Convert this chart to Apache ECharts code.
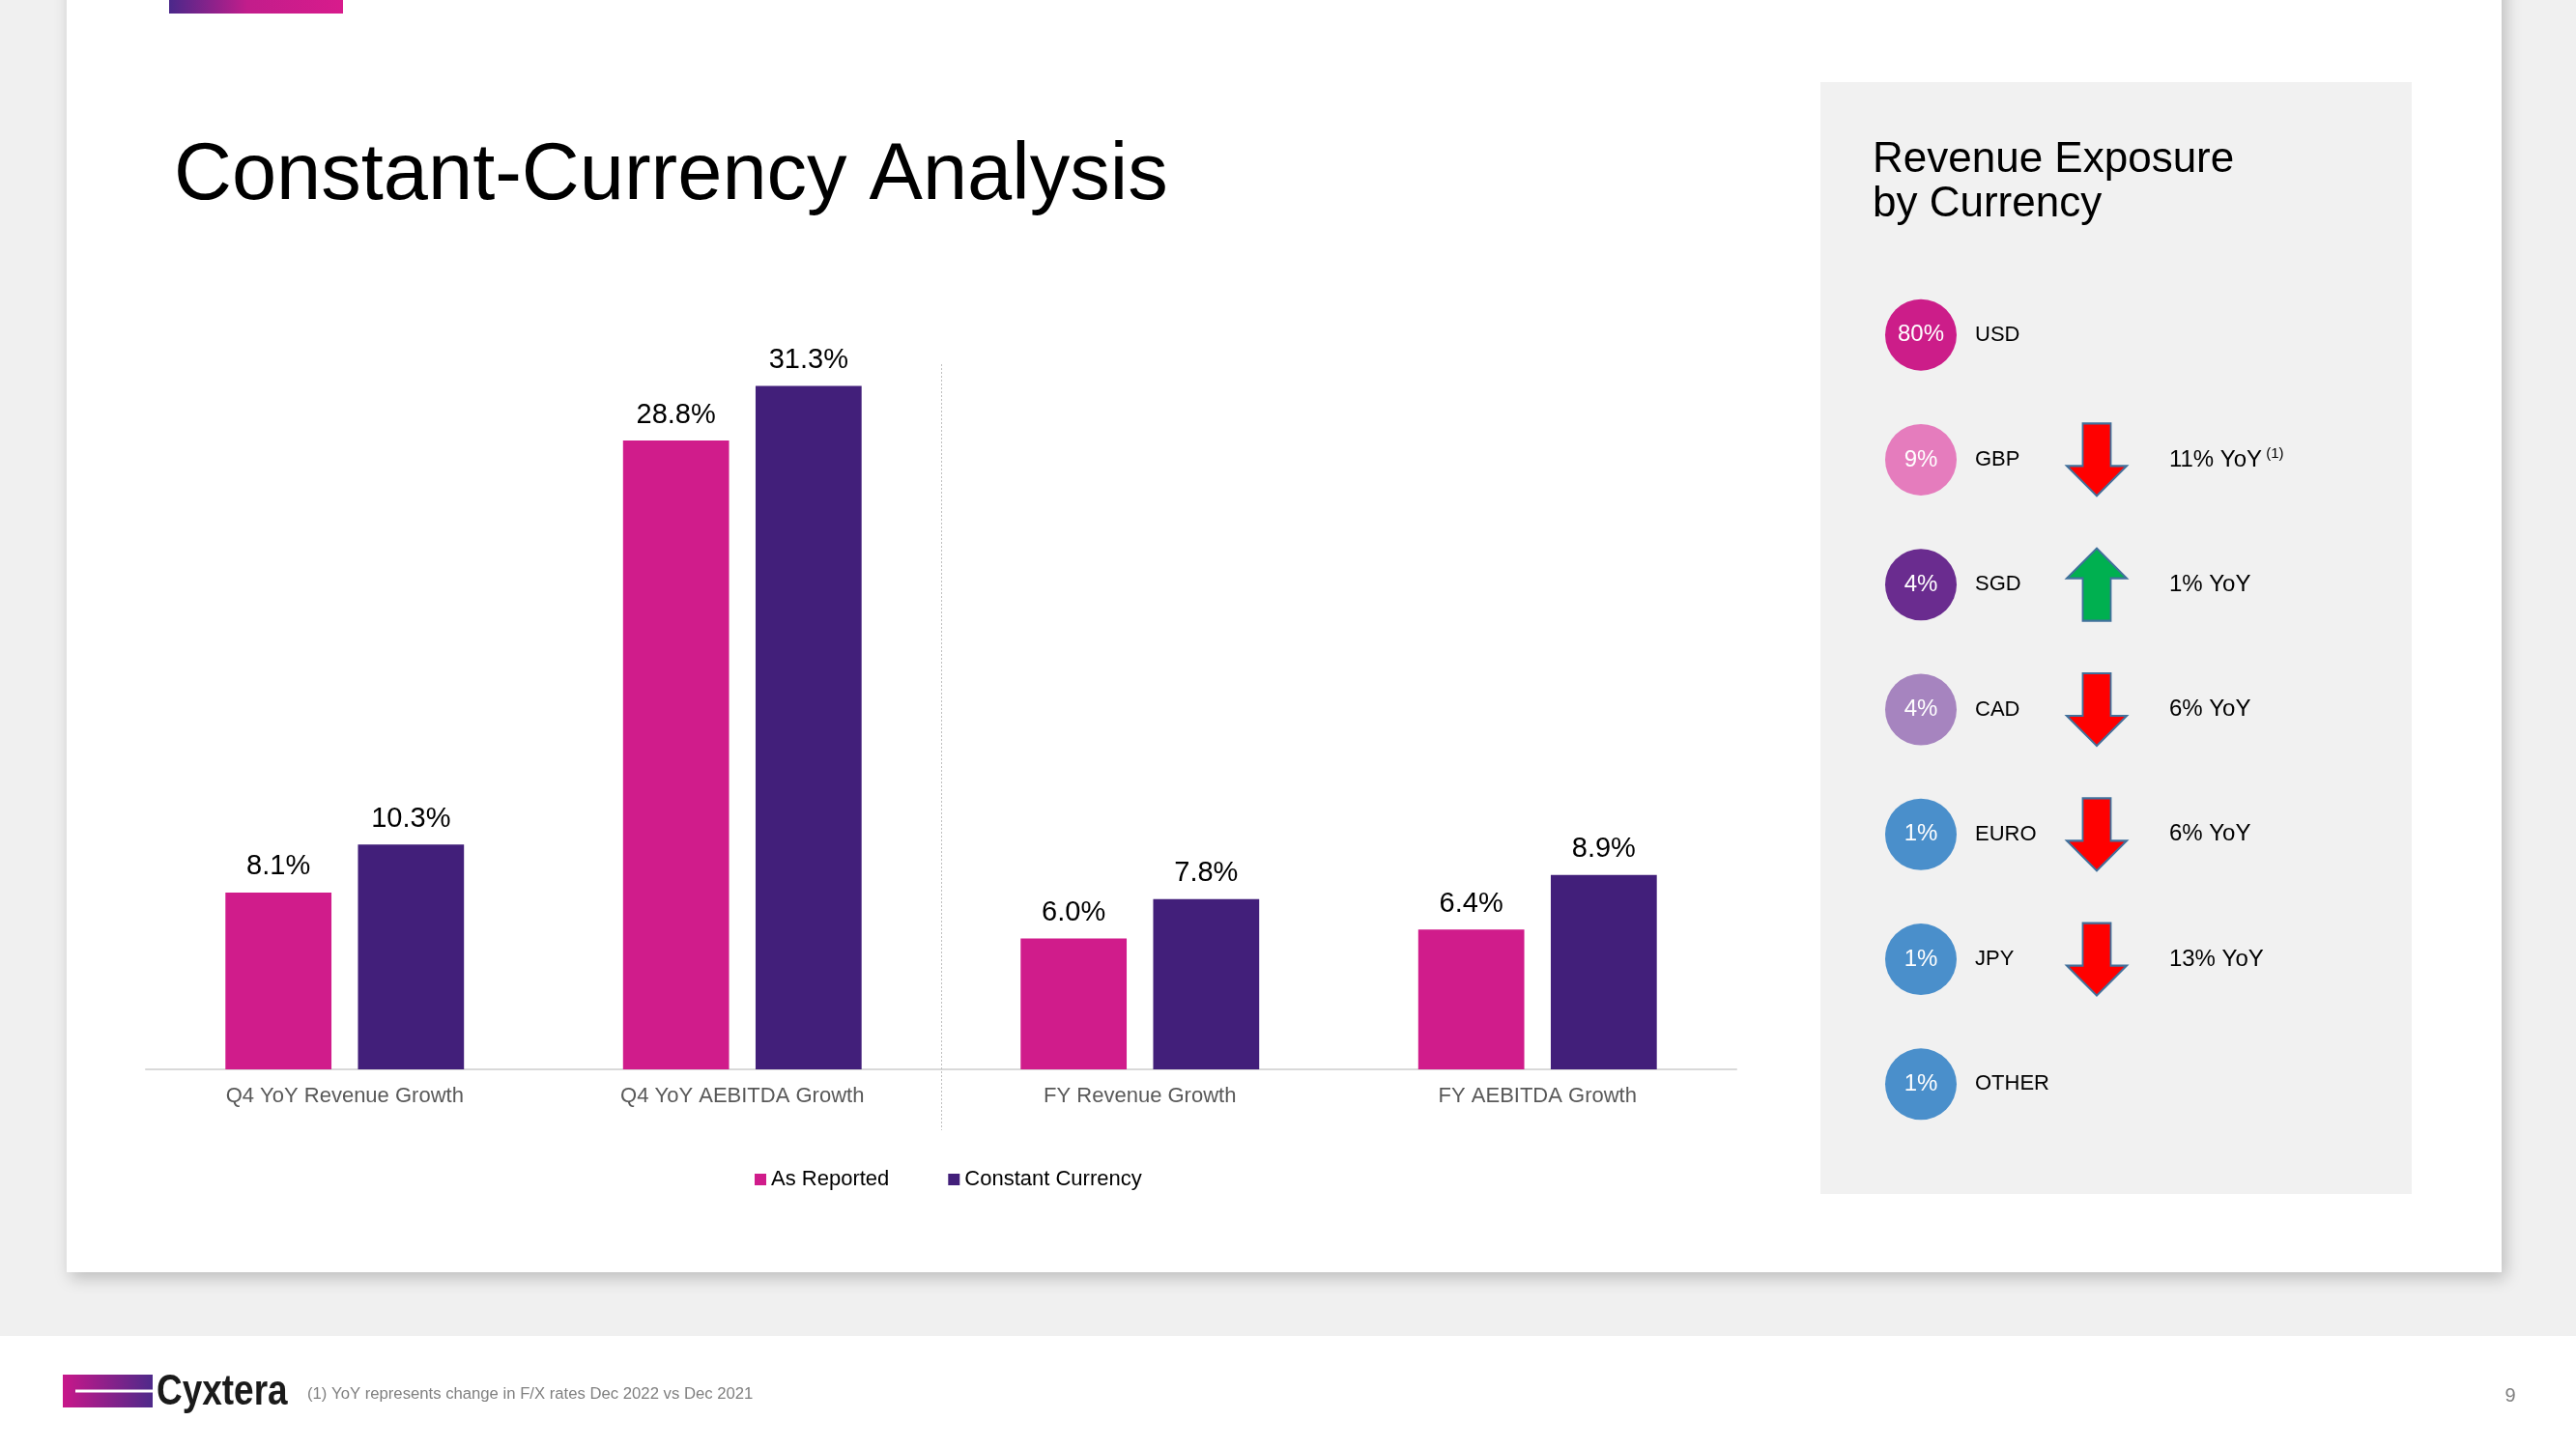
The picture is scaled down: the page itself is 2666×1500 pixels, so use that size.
<!DOCTYPE html>
<html>
<head>
<meta charset="utf-8">
<script src="https://cdn.jsdelivr.net/npm/echarts@6/dist/echarts.min.js"></script>
<style>
  html, body { margin: 0; padding: 0; background: #ffffff; }
  #chart { width: 2666px; height: 1500px; }
</style>
</head>
<body>
<div id="chart"></div>
<script>
// ---- data ----
const categories = ['Q4 YoY Revenue Growth', 'Q4 YoY AEBITDA Growth', 'FY Revenue Growth', 'FY AEBITDA Growth'];
const asReported = [8.1, 28.8, 6.0, 6.4];
const constantCurrency = [10.3, 31.3, 7.8, 8.9];
const seriesNames = ['As Reported', 'Constant Currency'];

const currencies = ['USD', 'GBP', 'SGD', 'CAD', 'EURO', 'JPY', 'OTHER'];
const revenueShare = [80, 9, 4, 4, 1, 1, 1];
const yoyChange = [null, -11, 1, -6, -6, -13, null];
const yoyNote = ['', '(1)', '', '', '', '', ''];
const panelColumns = ['share', 'change'];

// ---- styles ----
const FONT = "'Liberation Sans', Arial, sans-serif";
const barColors = ['#d01c8b', '#421f7a'];
const shareColors = ['#cc1d89', '#e57cbd', '#6a2c8f', '#a684bf', '#4a8fcb', '#4a8fcb', '#4a8fcb'];
const downArrow = 'path://M16.5,0 L45.5,0 L45.5,44 L62,44 L31,75 L0,44 L16.5,44 Z';
const upArrow = 'path://M31,0 L62,31 L45.5,31 L45.5,75 L16.5,75 L16.5,31 L0,31 Z';

const chart = echarts.init(document.getElementById('chart'), null, { renderer: 'canvas' });

const shareData = currencies.map((c, i) => ({
  value: ['share', c, revenueShare[i]],
  itemStyle: { color: shareColors[i], opacity: 1 }
}));
const nameData = currencies.map((c, i) => ({ value: ['share', c, revenueShare[i]], name: c }));
const changeData = [];
currencies.forEach((c, i) => {
  if (yoyChange[i] !== null) changeData.push({ value: ['change', c, yoyChange[i]], note: yoyNote[i] });
});

const barLabel = {
  show: true, position: 'top', distance: 12, fontFamily: FONT, fontSize: 29, color: '#000000',
  formatter: p => p.value.toFixed(1) + '%'
};

const option = {
  animation: false,
  backgroundColor: '#ffffff',
  textStyle: { fontFamily: FONT },
  title: [
    {
      text: 'Constant-Currency Analysis',
      left: 180, top: 141, padding: 0,
      textStyle: { fontFamily: FONT, fontSize: 83, fontWeight: 'normal', color: '#000000', lineHeight: 84 }
    },
    {
      text: 'Revenue Exposure\nby Currency',
      left: 1938, top: 143, padding: 0,
      textStyle: { fontFamily: FONT, fontSize: 44, fontWeight: 'normal', color: '#000000', lineHeight: 46 }
    }
  ],
  legend: {
    data: seriesNames,
    left: 776, top: 1205,
    itemWidth: 12, itemHeight: 12, itemGap: 61,
    icon: 'rect',
    textStyle: { fontFamily: FONT, fontSize: 22, color: '#000000' }
  },
  grid: [
    { left: 151, width: 1646, top: 316, height: 791 },
    { left: 1897, width: 364, top: 282, height: 905 }
  ],
  xAxis: [
    {
      type: 'category', gridIndex: 0, data: categories,
      axisLine: { lineStyle: { color: '#d9d9d9', width: 2 } },
      axisTick: { show: false },
      axisLabel: { fontFamily: FONT, fontSize: 22, color: '#595959', margin: 17 }
    },
    { type: 'category', gridIndex: 1, data: panelColumns, show: false }
  ],
  yAxis: [
    { type: 'value', gridIndex: 0, min: 0, max: 35, show: false, splitLine: { show: false } },
    { type: 'category', gridIndex: 1, data: currencies, inverse: true, show: false }
  ],
  series: [
    {
      name: seriesNames[0], type: 'bar', xAxisIndex: 0, yAxisIndex: 0,
      data: asReported, barGap: '25%', barCategoryGap: '40%',
      itemStyle: { color: barColors[0] },
      label: barLabel
    },
    {
      name: seriesNames[1], type: 'bar', xAxisIndex: 0, yAxisIndex: 0,
      data: constantCurrency, barGap: '25%', barCategoryGap: '40%',
      itemStyle: { color: barColors[1] },
      label: barLabel
    },
    {
      name: 'Revenue Share', type: 'scatter', xAxisIndex: 1, yAxisIndex: 1,
      symbol: 'circle', symbolSize: 74, silent: true,
      itemStyle: { opacity: 1 },
      data: shareData,
      label: { show: true, position: 'inside', fontFamily: FONT, fontSize: 24, color: '#ffffff',
        formatter: p => p.value[2] + '%' }
    },
    {
      name: 'Currency', type: 'scatter', xAxisIndex: 1, yAxisIndex: 1,
      symbol: 'circle', symbolSize: 74, silent: true,
      itemStyle: { color: 'rgba(0,0,0,0)', opacity: 1 },
      data: nameData,
      label: { show: true, position: 'right', distance: 19, fontFamily: FONT, fontSize: 22, color: '#000000',
        formatter: p => p.value[1] }
    },
    {
      name: 'YoY FX Change', type: 'scatter', xAxisIndex: 1, yAxisIndex: 1,
      symbol: (val) => (val[2] < 0 ? downArrow : upArrow),
      symbolSize: [62, 75], silent: true,
      data: changeData,
      itemStyle: {
        color: p => (p.value[2] < 0 ? '#ff0000' : '#00b050'),
        borderColor: '#41719c', borderWidth: 2, opacity: 1
      },
      label: {
        show: true, position: 'right', distance: 43, fontFamily: FONT, fontSize: 24, color: '#000000',
        formatter: p => '{t|' + Math.abs(p.value[2]) + '% YoY}' + (p.data.note ? '{s| ' + p.data.note + '}' : ''),
        rich: {
          t: { fontFamily: FONT, fontSize: 24, color: '#000000' },
          s: { fontFamily: FONT, fontSize: 15, color: '#000000', verticalAlign: 'top', padding: [0, 0, 12, 0] }
        }
      }
    }
  ],
  graphic: [
    { type: 'rect', id: 'pagebg', z: -10, silent: true, shape: { x: 0, y: 0, width: 2666, height: 1383 }, style: { fill: '#f0f0f0' } },
    { type: 'rect', id: 'card', z: -9, silent: true, shape: { x: 69, y: -30, width: 2520, height: 1347 },
      style: { fill: '#ffffff', shadowBlur: 16, shadowOffsetX: 4, shadowOffsetY: 6, shadowColor: 'rgba(0,0,0,0.22)' } },
    { type: 'rect', id: 'topbar', z: -8, silent: true, shape: { x: 175, y: 0, width: 180, height: 14 },
      style: { fill: new echarts.graphic.LinearGradient(0, 0, 1, 0, [
        { offset: 0, color: '#4a288a' }, { offset: 0.45, color: '#c21d8b' }, { offset: 1, color: '#d81b8c' }]) } },
    { type: 'rect', id: 'panel', z: -8, silent: true, shape: { x: 1884, y: 85, width: 612, height: 1151 }, style: { fill: '#f1f1f1' } },
    { type: 'rect', id: 'logoRect', z: 5, silent: true, shape: { x: 65, y: 1423, width: 93, height: 34 },
      style: { fill: new echarts.graphic.LinearGradient(0, 0, 1, 0, [
        { offset: 0, color: '#c8178a' }, { offset: 1, color: '#4e2a8a' }]) } },
    { type: 'line', id: 'logoLine', z: 6, silent: true, shape: { x1: 78, y1: 1440, x2: 158, y2: 1440 }, style: { stroke: '#ffffff', lineWidth: 3 } },
    { type: 'text', id: 'logoText', z: 6, silent: true, x: 162, y: 1442, scaleX: 0.84,
      style: { text: 'Cyxtera', fill: '#1a1a1a', font: "bold 44px 'Liberation Sans', Arial, sans-serif", textVerticalAlign: 'middle', textAlign: 'left' } },
    { type: 'text', id: 'footnote', z: 6, silent: true, x: 318, y: 1443,
      style: { text: '(1) YoY represents change in F/X rates Dec 2022 vs Dec 2021', fill: '#808080', font: "16.7px 'Liberation Sans', Arial, sans-serif", textVerticalAlign: 'middle', textAlign: 'left' } },
    { type: 'text', id: 'pagenum', z: 6, silent: true, x: 2598, y: 1445,
      style: { text: '9', fill: '#808080', font: "20px 'Liberation Sans', Arial, sans-serif", textVerticalAlign: 'middle', textAlign: 'center' } }
  ]
};

chart.setOption(option);

// dotted separator between the Q4 and FY groups, placed at the category boundary
const c1 = chart.convertToPixel({ xAxisIndex: 0 }, categories[1]);
const c2 = chart.convertToPixel({ xAxisIndex: 0 }, categories[2]);
const sepX = Math.round((c1 + c2) / 2) + 0.5;
chart.setOption({
  graphic: [
    { type: 'line', id: 'separator', z: 1, silent: true, shape: { x1: sepX, y1: 377, x2: sepX, y2: 1170 },
      style: { stroke: '#bfbfbf', lineWidth: 1, lineDash: [2, 2] } }
  ]
});
</script>
</body>
</html>
